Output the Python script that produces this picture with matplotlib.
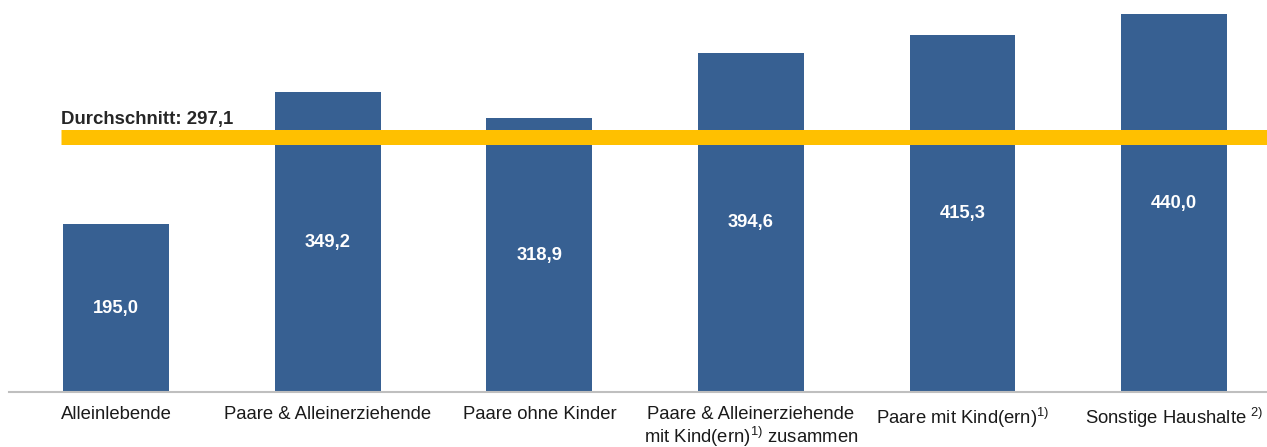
import matplotlib
matplotlib.use("Agg")
import matplotlib.pyplot as plt
import numpy as np

categories = [
    "Alleinlebende",
    "Paare & Alleinerziehende",
    "Paare ohne Kinder",
    "Paare & Alleinerziehende\nmit Kind(ern)$^{1)}$ zusammen",
    "Paare mit Kind(ern)$^{1)}$",
    "Sonstige Haushalte $^{2)}$",
]
values = [195.0, 349.2, 318.9, 394.6, 415.3, 440.0]
average = 297.1

bar_color = "#376092"
avg_color = "#FFC000"

plt.rcParams["font.family"] = ["Liberation Sans", "DejaVu Sans"]
plt.rcParams["mathtext.fontset"] = "custom"
plt.rcParams["mathtext.rm"] = "Liberation Sans"
plt.rcParams["mathtext.it"] = "Liberation Sans"

fig = plt.figure(figsize=(12.67, 4.47), dpi=100)
ax = fig.add_axes([9 / 1267, 55 / 447, 1258 / 1267, 392 / 447])

x = np.arange(len(categories))
bars = ax.bar(x, values, width=0.5, color=bar_color, zorder=2)

for xi, v in zip(x, values):
    ax.text(xi, v / 2, f"{v:.1f}".replace(".", ","), ha="center", va="center",
            color="white", fontsize=13.2, fontweight="bold", zorder=4)

# Durchschnittslinie
ax.plot([-0.26, 5.44], [average, average], color=avg_color, linewidth=10.8,
        solid_capstyle="butt", zorder=3, clip_on=False)
ax.annotate(f"Durchschnitt: {average:.1f}".replace(".", ","), xy=(-0.26, average),
            xytext=(0, 9.4), textcoords="offset points", ha="left", va="baseline",
            fontsize=13.4, fontweight="bold", color="#262626")

ax.set_xlim(-0.507, 5.44)
ax.set_ylim(0, 456.3)
ax.set_xticks(x)
ax.set_xticklabels(categories, fontsize=13.3, color="#1a1a1a", linespacing=1.1)
ax.tick_params(axis="x", length=0, pad=10)
ax.set_yticks([])
for s in ["top", "right", "left"]:
    ax.spines[s].set_visible(False)
ax.spines["bottom"].set_color("#BFBFBF")
ax.spines["bottom"].set_linewidth(1.5)

fig.savefig("out.png", dpi=100)
